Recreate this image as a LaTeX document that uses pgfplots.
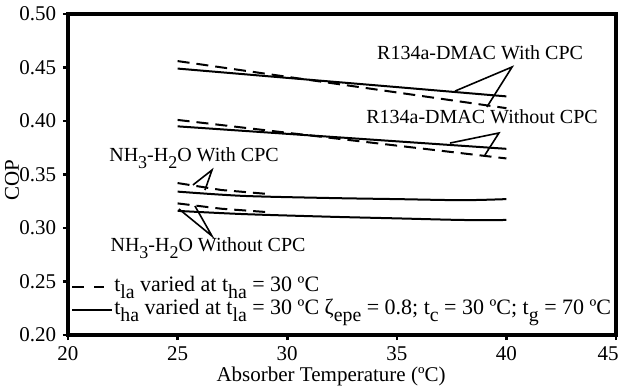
\documentclass[border=0pt]{standalone}
\usepackage{fontspec}
\setmainfont{Liberation Serif}
\usepackage{pgfplots}
\pgfplotsset{compat=1.18}

% lowered, nearly full-size subscripts as in the printed figure
\newcommand{\sub}[1]{\raisebox{-0.75ex}{\scalebox{0.9}{#1}}}

\pgfplotsset{
  cpc/.style={black, line width=2pt, no markers},
  cpcdash/.style={cpc, dash pattern=on 12pt off 7pt},
  legdash/.style={legend image code/.code={\draw[black, line width=2pt, dash pattern=on 12pt off 10pt] (0pt,0pt) -- (32pt,0pt);}},
  legsolid/.style={legend image code/.code={\draw[black, line width=2pt] (0pt,0pt) -- (40pt,0pt);}},
}

\begin{document}
\fontsize{20}{24}\selectfont
\begin{tikzpicture}
\begin{axis}[
  scale only axis, width=548pt, height=321pt,
  xmin=20, xmax=45, ymin=0.20, ymax=0.50,
  xtick={20,25,30,35,40},
  extra x ticks={45},
  extra x tick style={xticklabel style={xshift=-8pt}},
  ytick={0.20,0.25,0.30,0.35,0.40,0.45,0.50},
  yticklabel style={/pgf/number format/.cd, fixed, fixed zerofill, precision=2},
  /pgf/number format/assume math mode=true,
  tick label style={font=\fontsize{21}{24}\selectfont},
  label style={font=\fontsize{21}{24}\selectfont},
  separate axis lines,
  axis line style={line width=3.6pt, line cap=rect},
  every outer x axis line/.append style={line width=3.6pt},
  every outer y axis line/.append style={line width=3.6pt},
  tick style={line width=2.6pt, black},
  tick align=outside, tick pos=left, major tick length=5pt,
  xlabel={Absorber Temperature (ºC)},
  ylabel={COP},
  xlabel style={at={(axis description cs:0.48,-0.128)}, anchor=center},
  ylabel style={at={(axis description cs:-0.102,0.483)}, anchor=center},
  legend style={at={(axis cs:20.14,0.2551)}, anchor=north west, draw=none, fill=none,
    inner sep=0pt, row sep=1pt,
    nodes={inner sep=1pt, text height=14pt, text depth=6pt, font=\fontsize{22}{24}\selectfont}},
  legend cell align=left,
]
% R134a-DMAC, with CPC
\addplot[cpc, forget plot] coordinates {(25,0.449) (30,0.4403) (35,0.4317) (40,0.423)};
\addplot[cpcdash, forget plot] coordinates {(25,0.456) (30,0.4413) (35,0.4267) (40,0.412)};
% R134a-DMAC, without CPC
\addplot[cpc, forget plot] coordinates {(25,0.395) (30,0.388) (35,0.381) (40,0.374)};
\addplot[cpcdash, forget plot] coordinates {(25,0.401) (30,0.389) (35,0.377) (40,0.365)};
% NH3-H2O, with CPC
\addplot[cpc, smooth, forget plot] coordinates {(25,0.334) (28,0.330) (32,0.328) (35,0.327) (38,0.326) (40,0.327)};
\addplot[cpcdash, forget plot] coordinates {(25,0.342) (27,0.3355) (29,0.332)};
% NH3-H2O, without CPC
\addplot[cpc, smooth, forget plot] coordinates {(25,0.316) (28,0.313) (32,0.3105) (35,0.309) (38,0.3075) (40,0.3075)};
\addplot[cpcdash, forget plot] coordinates {(25,0.323) (27,0.318) (29,0.315)};

\addlegendimage{legdash}
\addlegendentry{t\sub{la} varied at t\sub{ha} = 30 ºC}
\addlegendimage{legsolid}
\addlegendentry{t\sub{ha} varied at t\sub{la} = 30 ºC ζ\sub{epe} = 0.8; t\sub{c} = 30 ºC; t\sub{g} = 70 ºC}

% curve labels with leader lines
\node at (axis cs:38.8,0.4636) {R134a-DMAC With CPC};
\draw[line width=1.6pt] (axis cs:37.66,0.428) -- (axis cs:40.26,0.4505) -- (axis cs:39.11,0.4131);
\node at (axis cs:38.89,0.4037) {R134a-DMAC Without CPC};
\draw[line width=1.6pt] (axis cs:37.43,0.3794) -- (axis cs:39.66,0.3888) -- (axis cs:39.02,0.3682);
\node at (axis cs:25.75,0.3654) {NH\sub{3}-H\sub{2}O With CPC};
\draw[line width=1.6pt] (axis cs:25.70,0.3402) -- (axis cs:26.57,0.3542) -- (axis cs:26.25,0.3355);
\node at (axis cs:26.39,0.2813) {NH\sub{3}-H\sub{2}O Without CPC};
\draw[line width=1.6pt] (axis cs:25.06,0.3178) -- (axis cs:26.57,0.2925) -- (axis cs:25.79,0.3206);

\coordinate (ll) at (rel axis cs:0,0);
\coordinate (ur) at (rel axis cs:1,1);
\end{axis}
\pgfresetboundingbox
\path ([shift={(-68pt,-50pt)}]ll) rectangle ([shift={(3pt,14pt)}]ur);
\end{tikzpicture}
\end{document}
